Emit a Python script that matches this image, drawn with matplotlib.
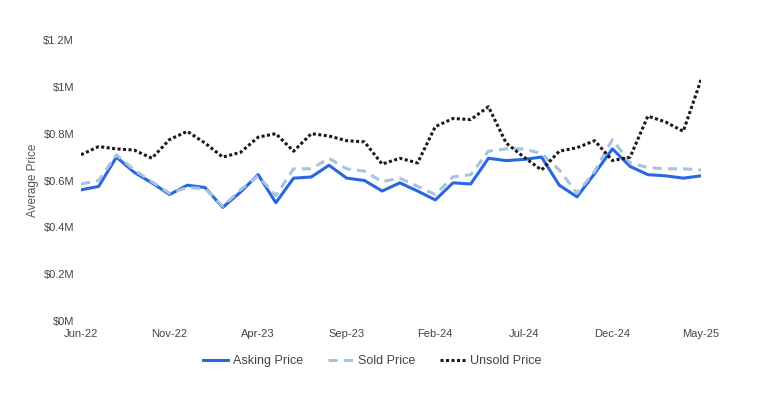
import matplotlib
matplotlib.use("Agg")
import matplotlib.pyplot as plt

plt.rcParams['font.family'] = ['Liberation Sans', 'DejaVu Sans']

months = ["Jun-22","Jul-22","Aug-22","Sep-22","Oct-22","Nov-22","Dec-22","Jan-23","Feb-23","Mar-23",
          "Apr-23","May-23","Jun-23","Jul-23","Aug-23","Sep-23","Oct-23","Nov-23","Dec-23","Jan-24",
          "Feb-24","Mar-24","Apr-24","May-24","Jun-24","Jul-24","Aug-24","Sep-24","Oct-24","Nov-24",
          "Dec-24","Jan-25","Feb-25","Mar-25","Apr-25","May-25"]

asking = [0.56,0.575,0.70,0.635,0.59,0.54,0.58,0.57,0.485,0.55,
          0.625,0.505,0.61,0.615,0.665,0.61,0.60,0.555,0.59,0.555,
          0.517,0.59,0.585,0.695,0.685,0.69,0.70,0.58,0.53,0.63,
          0.735,0.66,0.625,0.62,0.61,0.62]
sold = [0.585,0.60,0.71,0.645,0.595,0.545,0.57,0.565,0.49,0.56,
        0.62,0.535,0.65,0.65,0.695,0.65,0.64,0.595,0.61,0.575,
        0.54,0.615,0.625,0.725,0.735,0.735,0.715,0.645,0.545,0.64,
        0.775,0.675,0.655,0.65,0.65,0.645]
unsold = [0.71,0.745,0.735,0.73,0.695,0.775,0.81,0.76,0.70,0.72,
          0.785,0.80,0.725,0.80,0.79,0.77,0.765,0.67,0.695,0.675,
          0.83,0.865,0.86,0.915,0.76,0.70,0.645,0.725,0.74,0.77,
          0.685,0.70,0.875,0.85,0.81,1.03]

yticks = [0, 0.2, 0.4, 0.6, 0.8, 1.0, 1.2]
ytick_labels = ["$0M", "$0.2M", "$0.4M", "$0.6M", "$0.8M", "$1M", "$1.2M"]

fig = plt.figure(figsize=(7.57, 3.93), dpi=100)
ax = fig.add_axes([81/757, 1-321/393, 620/757, 281/393])

x = list(range(len(months)))
ax.plot(x, asking, color='#2a66de', lw=2.2, label='Asking Price', solid_joinstyle='round')
ax.plot(x, sold, color='#a6c3df', lw=2.2, ls=(0, (3, 2)), label='Sold Price')
ax.plot(x, unsold, color='#1a1a1a', lw=2.2, ls=(0, (1, 0.8)), label='Unsold Price')

ax.set_xlim(0, len(months)-1)
ax.set_ylim(0, 1.2)
ax.set_yticks(yticks)
ax.set_yticklabels(ytick_labels)
ax.set_xticks(x[::5])
ax.set_xticklabels(months[::5])
for s in ax.spines.values():
    s.set_visible(False)
ax.tick_params(length=0, labelsize=8, colors='#444444')
ax.tick_params(axis='y', pad=5)
ax.tick_params(axis='x', pad=6)
ax.set_ylabel("Average Price", fontsize=8.5, color='#555555', labelpad=3)

leg = fig.legend(loc='center', bbox_to_anchor=(372/757, 1-361/393), ncol=3, frameon=False,
                 fontsize=9, handlelength=2.0, columnspacing=2.0, handletextpad=0.4)
for t in leg.get_texts():
    t.set_color('#444444')

fig.savefig("out.png", dpi=100)
